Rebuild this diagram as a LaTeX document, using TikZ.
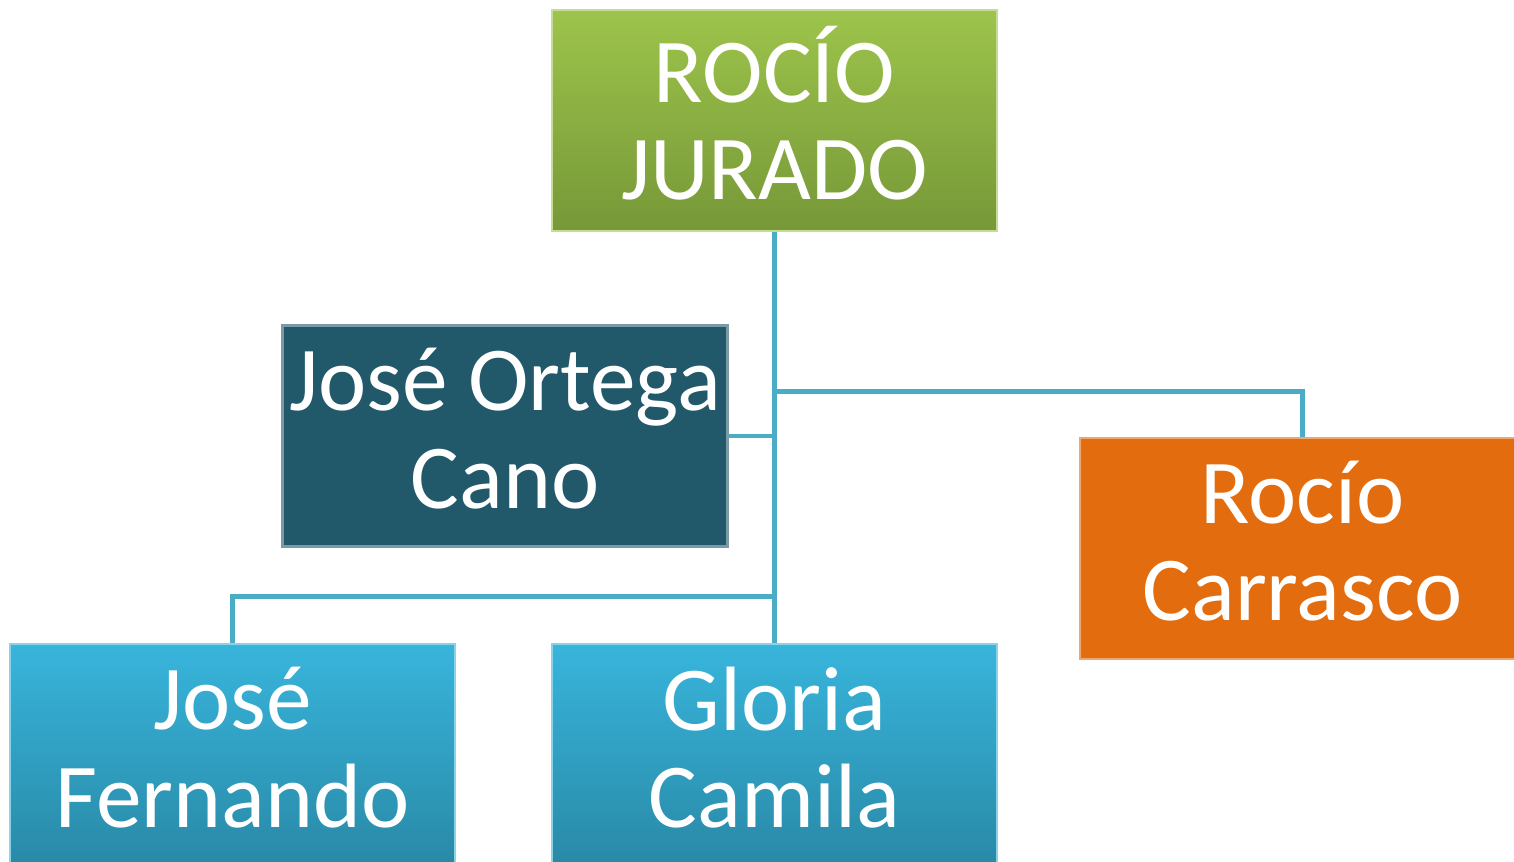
\documentclass[tikz,border=0pt]{standalone}
\usepackage{fontspec}
\setmainfont{Carlito}
\usetikzlibrary{positioning}
\definecolor{rootGreenTop}{RGB}{157, 196, 75}
\definecolor{rootGreenBot}{RGB}{118, 152, 56}
\definecolor{spouseTeal}{RGB}{33, 89, 106}
\definecolor{childBlueTop}{RGB}{56, 181, 220}
\definecolor{childBlueBot}{RGB}{41, 137, 166}
\definecolor{daughterOrange}{RGB}{226, 108, 14}
\definecolor{linkBlue}{RGB}{75, 172, 198}
\tikzset{
    person/.style={rectangle, minimum width=8.9cm, minimum height=4.42cm, inner sep=0pt, align=center, text=white, text depth=0.3cm, font=\fontsize{52}{55.5}\selectfont, line width=1.2pt},
    rootbox/.style={person, top color=rootGreenTop, bottom color=rootGreenBot, draw=rootGreenTop!60!white},
    spousebox/.style={person, fill=spouseTeal, draw=spouseTeal!60!white},
    childbox/.style={person, top color=childBlueTop, bottom color=childBlueBot, draw=childBlueTop!60!white},
    orangebox/.style={person, fill=daughterOrange, draw=daughterOrange!60!white},
    link/.style={draw=linkBlue, line width=2.8pt}
}
\begin{document}
\begin{tikzpicture}

    \path[use as bounding box, clip] (0,0) rectangle (30.28,17.24);

    % Top
    \node (root) [rootbox] at (15.49,14.83) {ROCÍO\\JURADO};

    % Partners
    \node (ortega) [spousebox] at (10.1,8.52) {José Ortega\\Cano};
    \node (carrasco) [orangebox] at (26.05,6.27) {Rocío\\Carrasco};

    % Children
    \node (gloria) [childbox, below=8.22cm of root] {Gloria\\Camila};
    \node (fernando) [childbox, left=1.9cm of gloria] {José\\Fernando};

    % Connecting
    \draw [link] (root.south) -- (gloria.north);
    \draw [link] (root.south) -- ++(0,-3.18) -| (carrasco.north);
    \draw [link] (ortega.east) -- (ortega.east -| root.south);
    \draw [link] (fernando.north) -- ++(0,0.94) -| (gloria.north);

\end{tikzpicture}
\end{document}
